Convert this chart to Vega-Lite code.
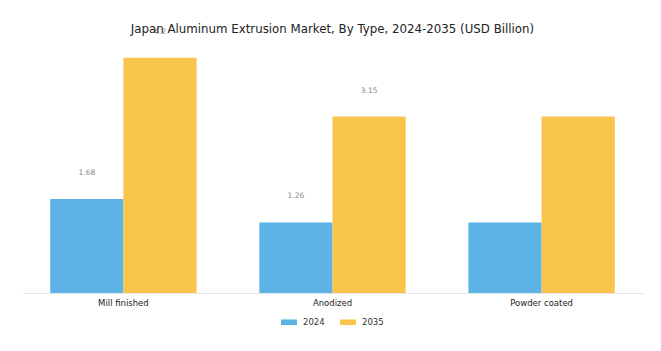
{
  "$schema": "https://vega.github.io/schema/vega-lite/v6.json",
  "autosize": {"type": "none"},
  "width": 621,
  "height": 252,
  "padding": {"left": 22, "top": 41, "right": 18, "bottom": 58},
  "background": "white",
  "title": {
    "text": "Japan Aluminum Extrusion Market, By Type, 2024-2035 (USD Billion)",
    "font": "DejaVu Sans",
    "fontSize": 11.8,
    "fontWeight": "normal",
    "color": "#222222",
    "anchor": "middle",
    "offset": -8
  },
  "data": {
    "values": [
      {"type": "Mill finished", "year": "2024", "value": 1.68},
      {"type": "Mill finished", "year": "2035", "value": 4.2},
      {"type": "Anodized", "year": "2024", "value": 1.26},
      {"type": "Anodized", "year": "2035", "value": 3.15},
      {"type": "Powder coated", "year": "2024", "value": 1.26},
      {"type": "Powder coated", "year": "2035", "value": 3.15}
    ]
  },
  "encoding": {
    "x": {
      "field": "type",
      "type": "nominal",
      "sort": ["Mill finished", "Anodized", "Powder coated"],
      "scale": {"paddingInner": 0.3, "paddingOuter": 0.135},
      "axis": {
        "title": null,
        "labelAngle": 0,
        "ticks": false,
        "domainColor": "#e6e6e6",
        "labelFont": "DejaVu Sans",
        "labelFontSize": 8.5,
        "labelColor": "#222222",
        "labelPadding": 5
      }
    },
    "xOffset": {"field": "year", "type": "nominal", "scale": {"paddingInner": 0, "paddingOuter": 0}},
    "y": {
      "field": "value",
      "type": "quantitative",
      "scale": {"domain": [0, 4.5], "nice": false},
      "axis": null
    }
  },
  "layer": [
    {
      "mark": {"type": "bar"},
      "encoding": {
        "color": {
          "field": "year",
          "type": "nominal",
          "scale": {"domain": ["2024", "2035"], "range": ["#5DB2E6", "#F9C44B"]},
          "legend": {
            "title": null,
            "orient": "none",
            "legendX": 259,
            "legendY": 273,
            "direction": "horizontal",
            "symbolType": "M-1,-0.35H1V0.35H-1Z",
            "symbolSize": 256,
            "symbolStrokeWidth": 0,
            "labelFont": "DejaVu Sans",
            "labelFontSize": 8.5,
            "labelColor": "#333333",
            "labelOffset": 6,
            "columnPadding": 15
          }
        }
      }
    },
    {
      "transform": [{"filter": "datum.type != 'Powder coated'"}],
      "mark": {"type": "text", "dy": -26, "font": "DejaVu Sans", "fontSize": 7.5, "color": "#888888"},
      "encoding": {
        "text": {"field": "value", "type": "quantitative"}
      }
    }
  ],
  "config": {"view": {"stroke": null}}
}
